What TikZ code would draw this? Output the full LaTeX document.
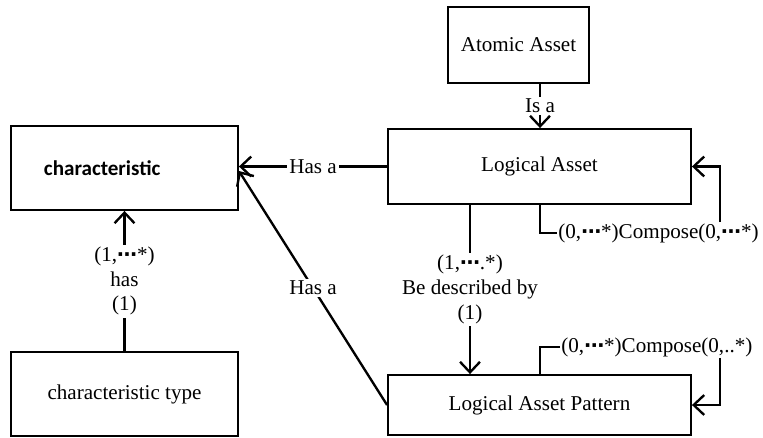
\documentclass[tikz,border=0pt]{standalone}
\usepackage{fontspec}
\setmainfont{Liberation Serif}
\newfontfamily\boldsans{Carlito}
\newfontfamily\dotsfont{DejaVu Sans}
\usetikzlibrary{arrows.meta, calc}
\newcommand{\mdots}{{\dotsfont\bfseries\fontsize{17}{21}\selectfont ⋯}}

\begin{document}
\begin{tikzpicture}[
        x=0.03cm, y=-0.03cm,
        every node/.style={font=\fontsize{18}{21}\selectfont},
        box/.style={draw, line width=1.6pt, inner sep=0pt},
        conn/.style={line width=2pt, -{Straight Barb[length=9pt, width=17pt, line width=2pt]}},
        link/.style={line width=2pt},
        lbl/.style={fill=white, inner sep=2pt}
    ]
        \useasboundingbox (0,0) rectangle (763,437);

        % Boxes
        \node[box, minimum width=6.81cm, minimum height=2.52cm, text width=4.83cm, align=left,
              font=\boldsans\bfseries\fontsize{18}{21}\selectfont] (char) at (124.5,168) {characteristic\\[4pt]};
        \node[box, minimum width=6.81cm, minimum height=2.52cm] (chartype) at (124.5,394) {characteristic type};
        \node[box, minimum width=4.23cm, minimum height=2.28cm] (atomic) at (518.5,45) {Atomic Asset};
        \node[box, minimum width=9.09cm, minimum height=2.25cm] (logical) at (539.5,166.5) {Logical Asset};
        \node[box, minimum width=9.09cm, minimum height=1.8cm] (pattern) at (539.5,405) {Logical Asset Pattern};

        % Helper columns
        \coordinate (isa) at (540,0);
        \coordinate (desc) at (470,0);
        \coordinate (loop) at (720,0);

        % Compose labels
        \node[lbl, anchor=west, inner sep=1pt] (lcomp) at (557,233) {(0,\mdots*)Compose(0,\mdots*)};
        \node[lbl, anchor=west, inner sep=1pt] (pcomp) at (560,347) {(0,\mdots*)Compose(0,..*)};

        % Relations
        \draw[conn] (atomic.south -| isa) -- node[lbl] {Is a} (logical.north -| isa);
        \draw[conn] (logical.west) -- node[lbl] {Has a} (logical.west -| char.east);
        \draw[conn] (pattern.west) -- node[lbl] {Has a} ($(char.east)+(0,3)$);
        \draw[conn] (logical.south -| desc) -- node[lbl, align=center] {(1,\mdots.*)\\Be described by\\(1)} (pattern.north -| desc);
        \draw[conn] (chartype.north) -- node[lbl, align=center] {(1,\mdots*)\\has\\(1)} (char.south);

        % Self loops
        \draw[link] (logical.south -| isa) |- (lcomp.west);
        \draw[conn] (lcomp.north -| loop) |- (logical.east);
        \draw[link] (pattern.north -| isa) |- (pcomp.west);
        \draw[conn] (pcomp.south -| loop) |- (pattern.east);
    \end{tikzpicture}
\end{document}
